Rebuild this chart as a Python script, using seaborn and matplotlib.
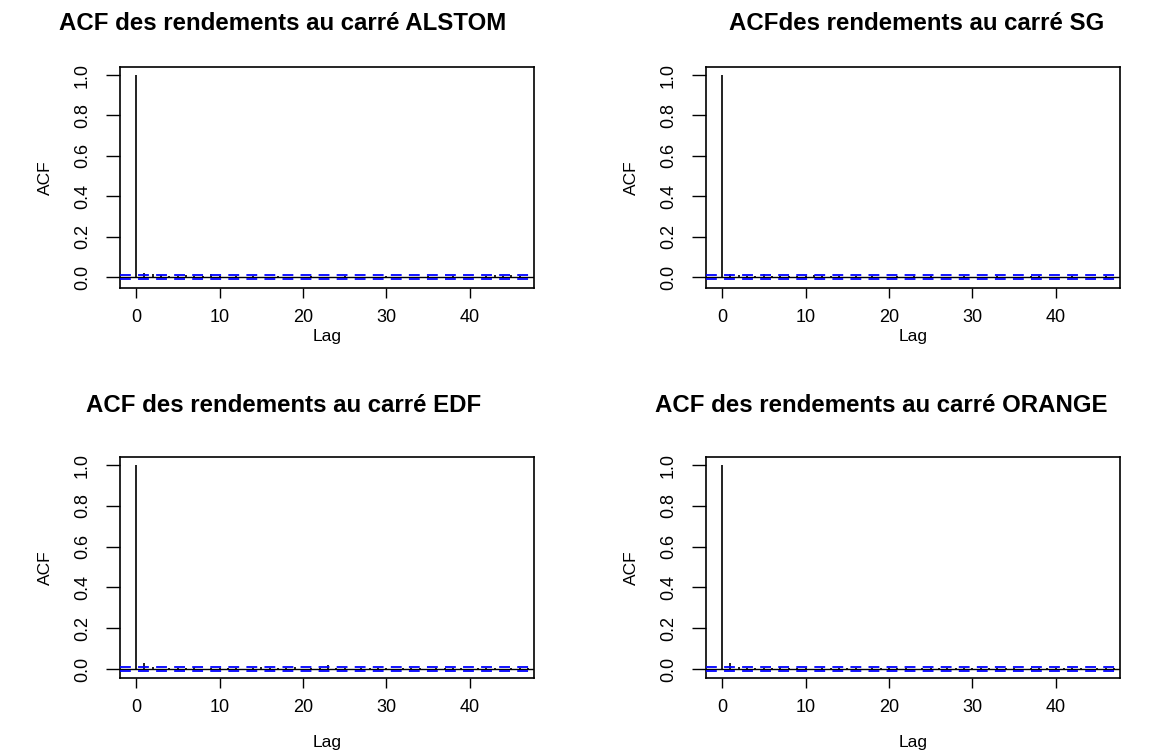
import numpy as np
import matplotlib
matplotlib.use("Agg")
import matplotlib.pyplot as plt
import seaborn as sns

sns.set_theme(style="white")
plt.rcParams['font.family'] = ['Liberation Sans', 'DejaVu Sans']

lags = list(range(0, 48))

acf_alstom = [1.0, 0.022, 0.015, 0.009, 0.007, 0.004, 0.008, 0.003, 0.005, 0.014,
              0.004, 0.002, 0.003, 0.002, 0.003, 0.001, 0.002, 0.003, 0.002, 0.001,
              0.002, 0.003, 0.002, 0.001, 0.002, 0.003, 0.001, 0.002, 0.001, 0.002,
              0.003, 0.001, 0.002, 0.001, 0.002, 0.003, 0.001, 0.002, 0.003, 0.002,
              0.001, 0.002, 0.003, 0.010, 0.004, 0.009, 0.003, 0.002]
acf_sg = [1.0, 0.016, 0.012, 0.006, 0.005, 0.014, 0.004, 0.003, 0.005, 0.004,
          0.003, 0.010, 0.004, 0.003, 0.006, 0.002, 0.003, 0.002, 0.003, 0.002,
          0.002, 0.003, 0.002, 0.005, 0.002, 0.003, 0.002, 0.001, 0.002, 0.003,
          0.002, 0.001, 0.002, 0.003, 0.002, 0.001, 0.002, 0.003, 0.005, 0.002,
          0.001, 0.002, 0.003, 0.002, 0.001, 0.002, 0.003, 0.002]
acf_edf = [1.0, 0.028, 0.010, -0.004, 0.004, 0.006, 0.003, 0.009, -0.003, 0.004,
           0.003, 0.007, 0.004, -0.003, 0.004, 0.008, 0.003, 0.004, 0.003, 0.008,
           -0.003, 0.004, 0.005, 0.020, 0.004, 0.003, -0.003, 0.006, 0.003, 0.004,
           0.005, -0.003, 0.004, 0.006, 0.003, -0.003, 0.004, 0.005, 0.003, 0.006,
           -0.003, 0.004, 0.005, 0.003, -0.003, 0.004, 0.003, 0.004]
acf_orange = [1.0, 0.032, 0.012, 0.006, 0.007, 0.004, 0.006, 0.008, 0.003, 0.004,
              0.006, -0.003, 0.004, 0.007, 0.003, 0.004, 0.005, -0.003, 0.004, 0.006,
              0.003, 0.004, 0.005, -0.003, 0.004, 0.006, 0.003, 0.004, 0.005, 0.004,
              0.003, 0.006, 0.004, 0.003, 0.005, 0.004, -0.003, 0.006, 0.004, 0.003,
              0.005, 0.004, 0.003, 0.006, -0.003, 0.004, 0.005, 0.003]

titles = ["ACF des rendements au carré ALSTOM", "ACFdes rendements au carré SG",
          "ACF des rendements au carré EDF", "ACF des rendements au carré ORANGE"]
series = [acf_alstom, acf_sg, acf_edf, acf_orange]
conf = [0.0095, 0.0095, 0.0085, 0.0085]
ymins = [-0.054, -0.054, -0.044, -0.044]
xticks = [0, 10, 20, 30, 40]
yticks = [0.0, 0.2, 0.4, 0.6, 0.8, 1.0]
ytick_labels = ["0.0", "0.2", "0.4", "0.6", "0.8", "1.0"]

W, H = 1175, 754
fig = plt.figure(figsize=(W / 100, H / 100), dpi=100)

# pixel boxes (left, right, top, bottom)
boxes = [(120, 534, 67, 288), (706, 1120, 67, 288),
         (120, 534, 457, 678), (706, 1120, 457, 678)]
title_pos = [(283, 24), (917, 24), (284, 405), (881, 405)]
lag_pos = [(327, 336), (913, 336), (327, 743), (913, 743)]
acf_pos = [(45, 178), (631, 178), (45, 568), (631, 568)]

for i in range(4):
    l, r, t, b = boxes[i]
    ax = fig.add_axes([l / W, 1 - b / H, (r - l) / W, (b - t) / H])
    vals = series[i]
    ax.vlines(lags, 0, vals, color="#222222", lw=1.4, zorder=2)
    ax.axhline(0, color="black", lw=1.0, zorder=2)
    ax.axhline(conf[i], color="#0000FF", lw=1.3, ls=(0, (6, 4)), zorder=3)
    ax.axhline(-conf[i], color="#0000FF", lw=1.3, ls=(0, (6, 4)), zorder=3)
    ax.set_xlim(-1.93, 47.7)
    ax.set_ylim(ymins[i], 1.04)
    ax.set_xticks(xticks)
    ax.set_xticklabels([str(v) for v in xticks], fontsize=13, color="black")
    ax.set_yticks(yticks)
    ax.set_yticklabels(ytick_labels, fontsize=13, rotation=90, va="center", color="black")
    ax.tick_params(axis="x", direction="out", length=7, width=1.0, color="black", pad=8, bottom=True)
    ax.tick_params(axis="y", direction="out", length=10, width=1.0, color="black", pad=11, left=True)
    for sp in ax.spines.values():
        sp.set_color("black")
        sp.set_linewidth(1.2)
    ax.grid(False)
    fig.text(title_pos[i][0] / W, 1 - title_pos[i][1] / H, titles[i], fontsize=17.3,
             fontweight="bold", ha="center", va="center", color="black")
    fig.text(lag_pos[i][0] / W, 1 - lag_pos[i][1] / H, "Lag", fontsize=12.5,
             ha="center", va="center", color="black")
    fig.text(acf_pos[i][0] / W, 1 - acf_pos[i][1] / H, "ACF", fontsize=12.5,
             ha="center", va="center", rotation=90, color="black")

fig.savefig("out.png", dpi=100, facecolor="white")
